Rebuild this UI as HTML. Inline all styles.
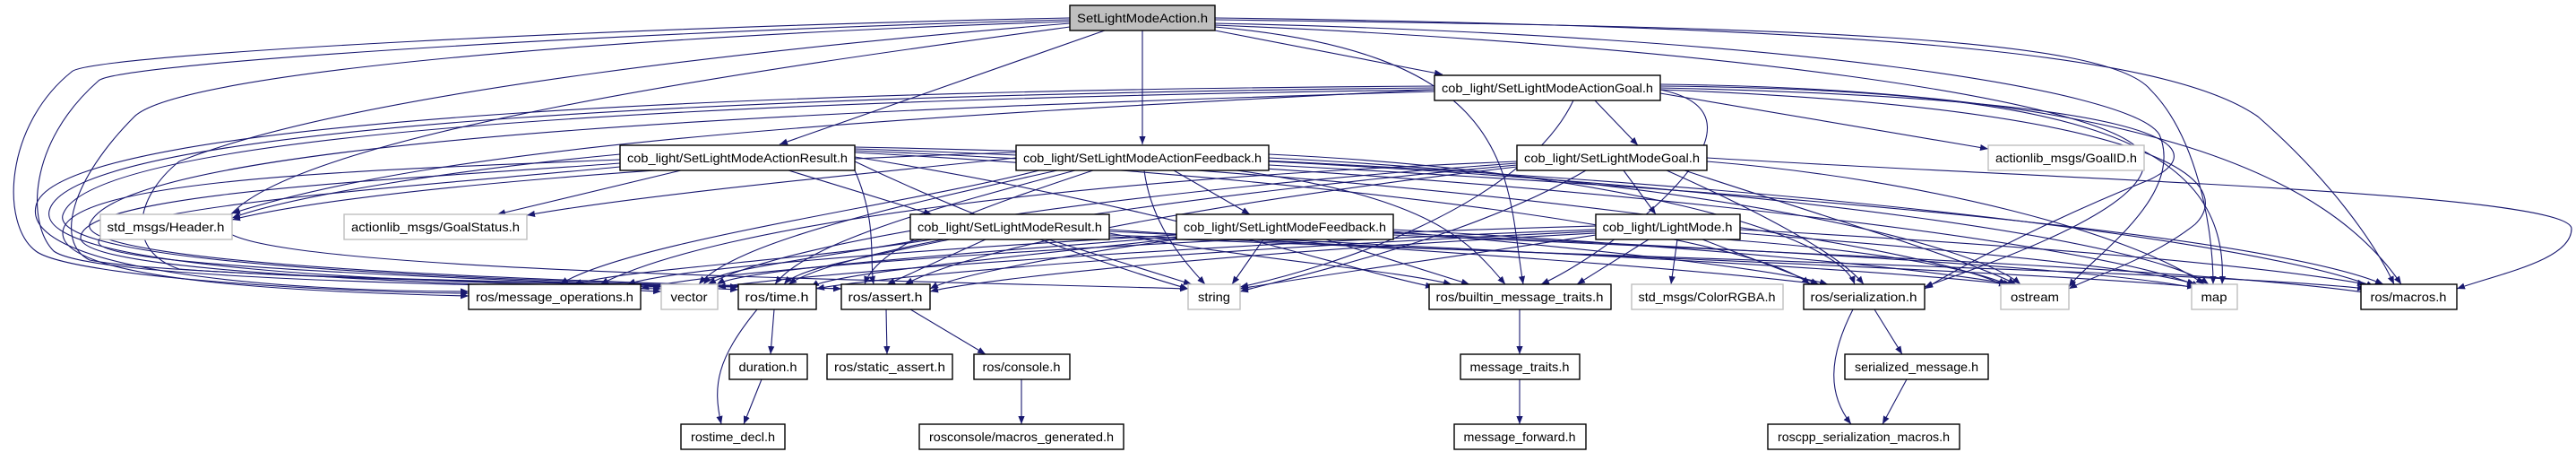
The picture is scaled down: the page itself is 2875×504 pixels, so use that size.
<!DOCTYPE html>
<html><head><meta charset="utf-8"><style>
html,body{margin:0;padding:0;background:#fff;}
svg{display:block;}
.e{fill:none;stroke:#191970;stroke-width:1.1;}
.n rect{fill:#fff;stroke:#000;stroke-width:1.4;}
.g rect{fill:#fff;stroke:#bfbfbf;stroke-width:1.4;}
text{font-family:"Liberation Sans",sans-serif;font-size:14px;fill:#000;text-anchor:middle;}
</style></head><body>
<svg width="2875" height="504" viewBox="0 0 2875 504" xmlns="http://www.w3.org/2000/svg">
<defs><marker id="a" viewBox="0 0 10 10" refX="10" refY="5" markerWidth="9" markerHeight="9" orient="auto" markerUnits="userSpaceOnUse"><path d="M0,1 L10,5 L0,9 z" fill="#191970"/></marker></defs>
<g class="e" marker-end="url(#a)">
<!-- N0 -->
<path d="M1356,34 L1610,83"/>
<path d="M1233,34 L870,161"/>
<path d="M1275,34 L1275,161"/>
<path d="M1194,20 C700,30 100,60 80,80 C5,140 0,250 40,280 C80,310 400,327 523,327"/>
<path d="M1194,22 C700,35 130,70 110,90 C30,160 30,250 60,280 C100,310 500,318 738,322"/>
<path d="M1194,24 C700,40 200,80 150,130 C80,200 60,270 100,290 C200,310 700,316 824,320"/>
<path d="M1194,26 C900,50 400,100 200,180 C150,220 140,280 200,300 C400,315 800,318 939,322"/>
<path d="M1194,30 C900,70 300,150 250,250 C230,300 900,310 1326,322"/>
<path d="M1356,22 C2000,30 2350,40 2400,100 C2450,150 2470,250 2470,317"/>
<path d="M1356,20 C2100,30 2420,60 2520,130 C2600,200 2650,270 2672,317"/>
<path d="M1356,26 C2000,40 2380,100 2410,150 C2440,220 2330,290 2309,320"/>
<path d="M1356,28 C1900,50 2350,110 2390,170 C2420,230 2200,300 2148,320"/>
<path d="M1356,30 C1700,60 1680,200 1700,317"/>
<!-- N1 -->
<path d="M1780,112 L1828,162"/>
<path d="M1853,104 L2219,166"/>
<path d="M1756,112 C1700,230 1480,300 1384,320"/>
<path d="M1601,100 C1000,130 500,160 259,238"/>
<path d="M1601,96 C900,100 60,130 40,230 C25,300 300,325 523,325"/>
<path d="M1601,98 C900,105 80,135 55,235 C40,300 450,315 738,320"/>
<path d="M1601,100 C900,110 100,140 70,240 C55,300 600,312 824,320"/>
<path d="M1601,102 C1000,120 140,150 100,250 C85,300 700,315 939,322"/>
<path d="M1853,100 C2000,130 1800,280 1720,317"/>
<path d="M1853,98 C2400,110 2480,160 2400,200 C2300,240 2200,290 2148,322"/>
<path d="M1853,100 C2400,120 2500,200 2450,250 C2400,290 2330,310 2309,322"/>
<path d="M1853,96 C2300,100 2490,150 2480,317"/>
<path d="M1853,94 C2400,100 2600,200 2680,317"/>
<!-- N2 -->
<path d="M692,172 C500,190 320,220 259,243"/>
<path d="M760,190 L555,239"/>
<path d="M880,190 L1040,239"/>
<path d="M692,178 C400,190 70,200 70,260 C70,310 300,325 523,330"/>
<path d="M692,182 C450,200 90,215 90,265 C90,305 500,315 738,325"/>
<path d="M692,186 C500,205 110,230 110,270 C110,300 600,312 824,323"/>
<path d="M954,190 C980,250 970,290 975,317"/>
<path d="M954,180 C1100,250 1250,300 1326,322"/>
<path d="M954,175 C1300,230 1500,300 1600,320"/>
<path d="M954,170 C1500,200 1950,260 2020,317"/>
<path d="M954,168 C1600,195 2150,270 2240,320"/>
<path d="M954,166 C1700,190 2350,270 2455,320"/>
<path d="M954,164 C1800,180 2500,260 2650,320"/>
<!-- N3 -->
<path d="M1310,190 L1395,239"/>
<path d="M1277,190 C1285,250 1320,290 1345,317"/>
<path d="M1380,190 C1600,220 1640,270 1680,317"/>
<path d="M1134,170 C800,180 400,210 259,245"/>
<path d="M1134,176 C900,200 700,220 588,240"/>
<path d="M1160,190 C1000,230 700,270 625,317"/>
<path d="M1180,190 C1000,230 820,270 780,317"/>
<path d="M1200,190 C1050,230 900,270 865,317"/>
<path d="M1220,190 C1100,230 980,270 965,317"/>
<path d="M1416,172 C1800,190 2050,260 2070,317"/>
<path d="M1416,176 C1900,200 2200,270 2255,317"/>
<path d="M1416,180 C2000,210 2400,270 2465,317"/>
<path d="M1416,184 C2100,220 2550,270 2660,317"/>
<!-- N4 -->
<path d="M1812,190 L1848,239"/>
<path d="M1770,190 C1650,260 1480,300 1384,325"/>
<path d="M1693,180 C1200,200 800,250 670,317"/>
<path d="M1693,182 C1300,210 900,260 790,317"/>
<path d="M1693,184 C1350,215 950,270 880,317"/>
<path d="M1693,186 C1400,220 1100,270 1010,317"/>
<path d="M1860,190 C1950,230 2050,280 2080,317"/>
<path d="M1880,190 C2000,230 2200,290 2250,317"/>
<path d="M1905,180 C2150,200 2380,260 2460,317"/>
<path d="M1905,176 C2300,200 2870,215 2870,255 C2870,290 2790,305 2742,322"/>
<!-- N8 -->
<path d="M1040,267 C900,290 700,300 640,317"/>
<path d="M1030,267 C900,290 800,300 785,317"/>
<path d="M1060,267 C950,290 890,300 875,317"/>
<path d="M1100,267 L990,317"/>
<path d="M1170,267 L1330,317"/>
<path d="M1238,260 C1400,290 1550,300 1620,317"/>
<path d="M1238,256 C1600,280 1900,300 2030,317"/>
<path d="M1238,258 C1700,280 2100,300 2240,317"/>
<path d="M1238,262 C1800,285 2300,305 2450,320"/>
<path d="M1238,264 C1900,290 2500,305 2640,322"/>
<!-- N9 -->
<path d="M1410,267 L1375,317"/>
<path d="M1480,267 L1640,317"/>
<path d="M1313,262 C1000,280 750,300 700,317"/>
<path d="M1313,264 C1050,285 830,300 800,317"/>
<path d="M1313,266 C1100,290 930,305 905,320"/>
<path d="M1313,267 C1150,290 1060,310 1038,322"/>
<path d="M1555,258 C1800,280 1980,300 2040,317"/>
<path d="M1555,256 C1900,275 2150,300 2245,317"/>
<path d="M1555,260 C2000,280 2350,300 2455,322"/>
<path d="M1555,262 C2100,285 2500,305 2645,327"/>
<!-- N10 -->
<path d="M1872,267 L1865,317"/>
<path d="M1840,267 L1760,317"/>
<path d="M1781,262 C1600,290 1450,310 1384,322"/>
<path d="M1781,256 C1400,270 950,300 801,320"/>
<path d="M1781,258 C1400,275 1000,305 911,322"/>
<path d="M1781,260 C1400,280 1100,310 1038,325"/>
<path d="M1781,252 C1300,265 800,300 715,322"/>
<path d="M1900,267 L2030,317"/>
<path d="M1925,267 C2100,280 2200,300 2240,317"/>
<path d="M1942,260 C2200,280 2400,300 2450,317"/>
<path d="M1942,256 C2300,275 2550,300 2640,317"/>
<!-- lower -->
<path d="M1696,345 L1696,395"/>
<path d="M1696,423 L1696,473"/>
<path d="M864,345 L860,395"/>
<path d="M845,345 C800,400 795,430 805,473"/>
<path d="M850,423 L830,473"/>
<path d="M989,345 L990,395"/>
<path d="M1016,345 L1100,395"/>
<path d="M1140,423 L1140,473"/>
<path d="M2092,345 L2123,395"/>
<path d="M2068,345 C2040,400 2040,440 2066,473"/>
<path d="M2128,423 L2101,473"/>
</g>
<g>
<g class="n"><rect x="1194" y="6" width="162" height="28" style="fill:#bfbfbf"/><text x="1275" y="25" textLength="146" lengthAdjust="spacingAndGlyphs">SetLightModeAction.h</text></g>
<g class="n"><rect x="1601" y="84" width="252" height="28"/><text x="1727" y="103" textLength="236" lengthAdjust="spacingAndGlyphs">cob_light/SetLightModeActionGoal.h</text></g>
<g class="n"><rect x="692" y="162" width="262" height="28"/><text x="823" y="181" textLength="246" lengthAdjust="spacingAndGlyphs">cob_light/SetLightModeActionResult.h</text></g>
<g class="n"><rect x="1134" y="162" width="282" height="28"/><text x="1275" y="181" textLength="266" lengthAdjust="spacingAndGlyphs">cob_light/SetLightModeActionFeedback.h</text></g>
<g class="n"><rect x="1693" y="162" width="212" height="28"/><text x="1799" y="181" textLength="196" lengthAdjust="spacingAndGlyphs">cob_light/SetLightModeGoal.h</text></g>
<g class="g"><rect x="2219" y="162" width="174" height="28"/><text x="2306" y="181" textLength="158" lengthAdjust="spacingAndGlyphs">actionlib_msgs/GoalID.h</text></g>
<g class="g"><rect x="112" y="239" width="147" height="28"/><text x="185" y="258" textLength="131" lengthAdjust="spacingAndGlyphs">std_msgs/Header.h</text></g>
<g class="g"><rect x="384" y="239" width="204" height="28"/><text x="486" y="258" textLength="188" lengthAdjust="spacingAndGlyphs">actionlib_msgs/GoalStatus.h</text></g>
<g class="n"><rect x="1016" y="239" width="222" height="28"/><text x="1127" y="258" textLength="206" lengthAdjust="spacingAndGlyphs">cob_light/SetLightModeResult.h</text></g>
<g class="n"><rect x="1313" y="239" width="242" height="28"/><text x="1434" y="258" textLength="226" lengthAdjust="spacingAndGlyphs">cob_light/SetLightModeFeedback.h</text></g>
<g class="n"><rect x="1781" y="239" width="161" height="28"/><text x="1861" y="258" textLength="145" lengthAdjust="spacingAndGlyphs">cob_light/LightMode.h</text></g>
<g class="n"><rect x="523" y="317" width="192" height="28"/><text x="619" y="336" textLength="176" lengthAdjust="spacingAndGlyphs">ros/message_operations.h</text></g>
<g class="g"><rect x="738" y="317" width="63" height="28"/><text x="769" y="336" textLength="41" lengthAdjust="spacingAndGlyphs">vector</text></g>
<g class="n"><rect x="824" y="317" width="87" height="28"/><text x="867" y="336" textLength="71" lengthAdjust="spacingAndGlyphs">ros/time.h</text></g>
<g class="n"><rect x="939" y="317" width="99" height="28"/><text x="988" y="336" textLength="83" lengthAdjust="spacingAndGlyphs">ros/assert.h</text></g>
<g class="g"><rect x="1326" y="317" width="58" height="28"/><text x="1355" y="336" textLength="36" lengthAdjust="spacingAndGlyphs">string</text></g>
<g class="n"><rect x="1595" y="317" width="203" height="28"/><text x="1696" y="336" textLength="187" lengthAdjust="spacingAndGlyphs">ros/builtin_message_traits.h</text></g>
<g class="g"><rect x="1821" y="317" width="169" height="28"/><text x="1905" y="336" textLength="153" lengthAdjust="spacingAndGlyphs">std_msgs/ColorRGBA.h</text></g>
<g class="n"><rect x="2013" y="317" width="135" height="28"/><text x="2080" y="336" textLength="119" lengthAdjust="spacingAndGlyphs">ros/serialization.h</text></g>
<g class="g"><rect x="2233" y="317" width="76" height="28"/><text x="2271" y="336" textLength="54" lengthAdjust="spacingAndGlyphs">ostream</text></g>
<g class="g"><rect x="2446" y="317" width="51" height="28"/><text x="2471" y="336" textLength="29" lengthAdjust="spacingAndGlyphs">map</text></g>
<g class="n"><rect x="2635" y="317" width="107" height="28"/><text x="2688" y="336" textLength="85" lengthAdjust="spacingAndGlyphs">ros/macros.h</text></g>
<g class="n"><rect x="814" y="395" width="87" height="28"/><text x="857" y="414" textLength="65" lengthAdjust="spacingAndGlyphs">duration.h</text></g>
<g class="n"><rect x="923" y="395" width="140" height="28"/><text x="993" y="414" textLength="124" lengthAdjust="spacingAndGlyphs">ros/static_assert.h</text></g>
<g class="n"><rect x="1087" y="395" width="107" height="28"/><text x="1140" y="414" textLength="87" lengthAdjust="spacingAndGlyphs">ros/console.h</text></g>
<g class="n"><rect x="1630" y="395" width="133" height="28"/><text x="1696" y="414" textLength="111" lengthAdjust="spacingAndGlyphs">message_traits.h</text></g>
<g class="n"><rect x="2059" y="395" width="160" height="28"/><text x="2139" y="414" textLength="138" lengthAdjust="spacingAndGlyphs">serialized_message.h</text></g>
<g class="n"><rect x="760" y="473" width="116" height="28"/><text x="818" y="492" textLength="94" lengthAdjust="spacingAndGlyphs">rostime_decl.h</text></g>
<g class="n"><rect x="1026" y="473" width="228" height="28"/><text x="1140" y="492" textLength="206" lengthAdjust="spacingAndGlyphs">rosconsole/macros_generated.h</text></g>
<g class="n"><rect x="1623" y="473" width="147" height="28"/><text x="1696" y="492" textLength="125" lengthAdjust="spacingAndGlyphs">message_forward.h</text></g>
<g class="n"><rect x="1973" y="473" width="214" height="28"/><text x="2080" y="492" textLength="192" lengthAdjust="spacingAndGlyphs">roscpp_serialization_macros.h</text></g>
</g>
</svg>
</body></html>
